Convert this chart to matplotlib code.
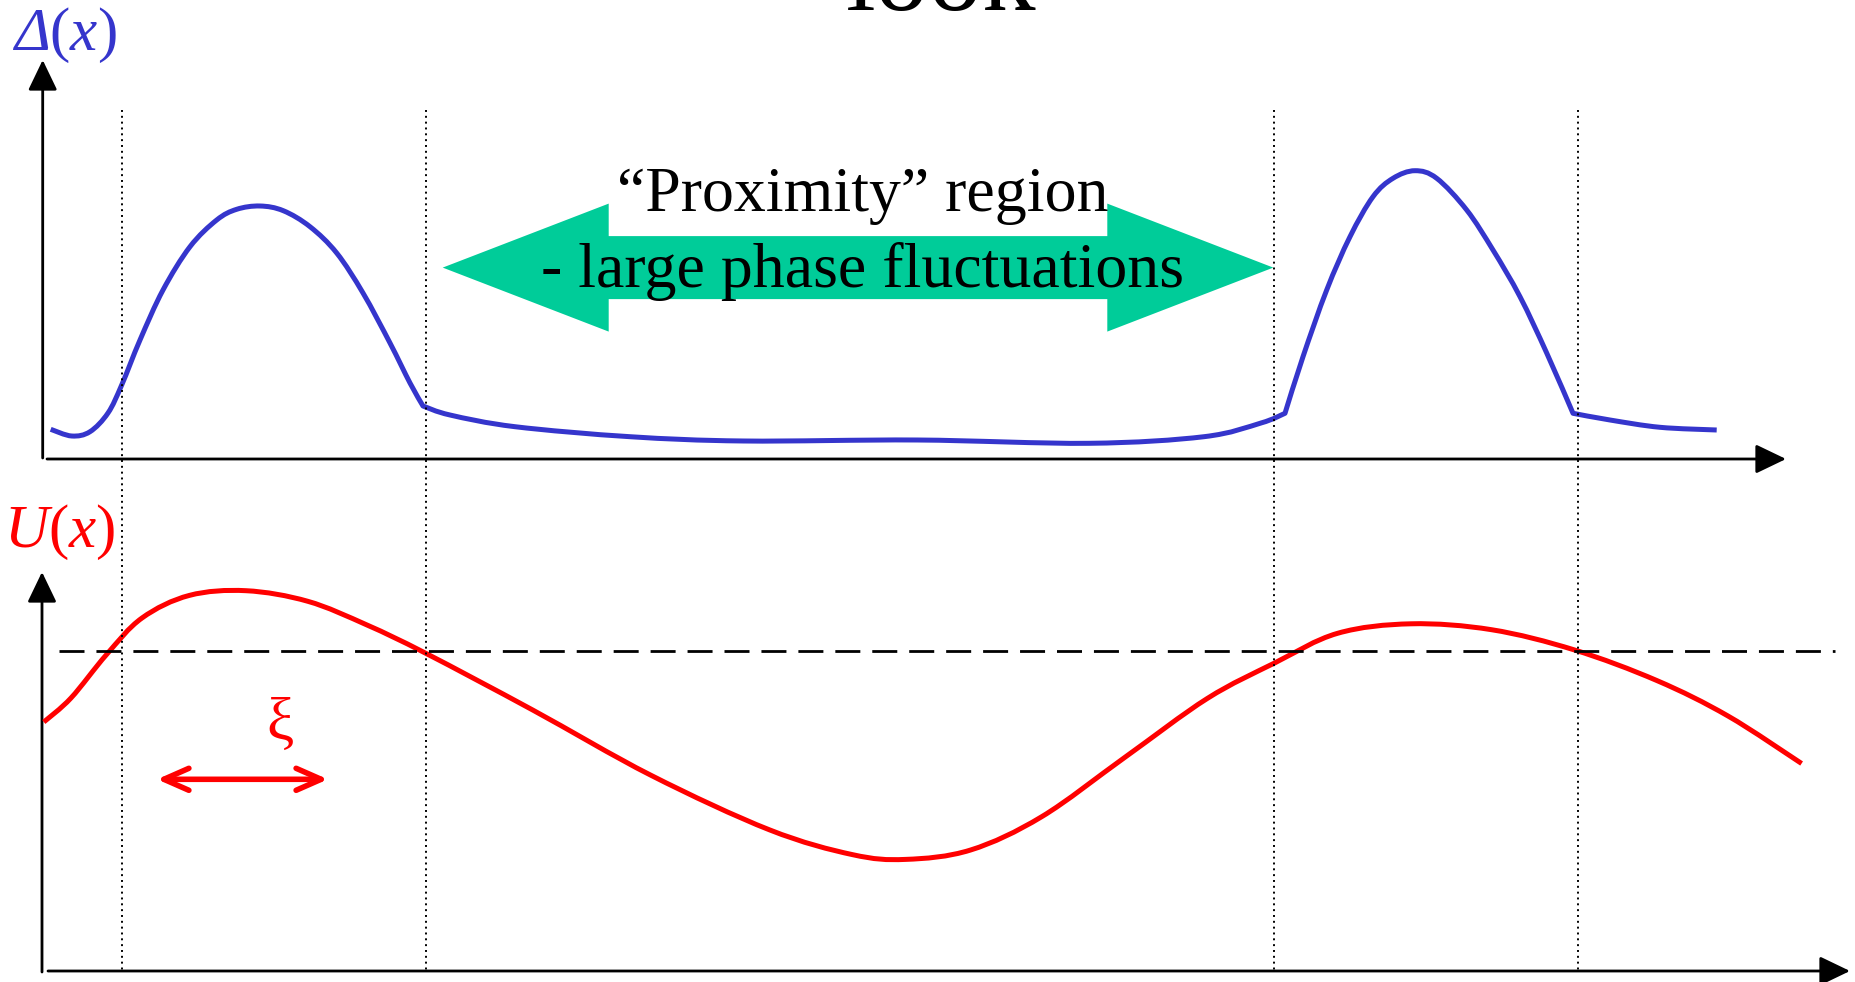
import matplotlib
matplotlib.use('Agg')
import matplotlib.pyplot as plt
import matplotlib.patches as mpatches
from matplotlib.path import Path
import numpy as np

plt.rcParams['font.family'] = ['Liberation Serif', 'DejaVu Serif']
plt.rcParams['mathtext.fontset'] = 'custom'
plt.rcParams['mathtext.rm'] = 'Liberation Serif'
plt.rcParams['mathtext.it'] = 'Liberation Serif:italic'

W, H = 1856, 982

# Gap function Delta(x) (pixel coords, y down)
delta_x = [50.7, 71.7, 90, 108, 121.7, 140, 163, 190, 216.7, 236.7, 260, 283.3,
           310, 336.7, 363, 390, 410, 423,
           450, 515, 630, 744, 917, 1089, 1204, 1261, 1285,
           1303, 1326.7, 1350, 1373, 1393, 1415, 1436.7, 1466.7, 1493, 1520,
           1546.7, 1573, 1610, 1660, 1716.7]
delta_y = [429.3, 436, 431.7, 413, 385, 340, 290, 246.7, 220, 209.3, 206, 210.7,
           226.7, 253, 293, 343, 383, 406,
           415, 426.7, 436.7, 441, 440, 443.3, 436.7, 423, 413.3,
           356.7, 290, 236.7, 196.7, 178.3, 170.7, 178.3, 210, 250, 296.7,
           353, 413.3, 420, 427.3, 430]
delta_kinks = [17, 26, 38]   # indices where the curve has a corner

# Pairing potential U(x)
u_x = [43.8, 71, 106.5, 142, 189.4, 246, 307.8, 367, 426, 532.7, 651, 769.4,
       852.3, 905.5, 970.6, 1041.7, 1124.5, 1207.4, 1274.8, 1337.6, 1411,
       1491.5, 1574.3, 1657, 1728, 1801.6]
u_y = [722, 698, 654.6, 618, 595.4, 590.7, 601.3, 625, 653.4, 710, 775.3, 829.8,
       854.6, 859.4, 850, 816.7, 757.6, 698.4, 662.9, 633.3, 623.8,
       629.7, 649.9, 680.6, 716, 763.5]

u_level = 651                      # dashed horizontal level
boundaries = [122.5, 426.5, 1274.5, 1578.3]   # dotted vertical lines

BLUE = '#3535CC'
RED = '#FF0000'
GREEN = '#00CC99'

fig = plt.figure(figsize=(W / 100, H / 100), dpi=100)
ax = fig.add_axes([0, 0, 1, 1])
ax.set_xlim(0, W)
ax.set_ylim(H, 0)
ax.axis('off')

px = 72 / 100  # pixels -> points


def smooth_path(xs, ys, kinks=()):
    """Cubic Bezier path through the points (Catmull-Rom tangents), corners kept at kinks."""
    pts = np.column_stack([xs, ys]).astype(float)
    cuts = [0] + list(kinks) + [len(pts) - 1]
    verts, codes = [pts[0]], [Path.MOVETO]
    for a, b in zip(cuts[:-1], cuts[1:]):
        seg = pts[a:b + 1]
        n = len(seg)
        for i in range(n - 1):
            p_prev = seg[i - 1] if i > 0 else seg[i]
            p_next = seg[i + 2] if i + 2 < n else seg[i + 1]
            verts += [seg[i] + (seg[i + 1] - p_prev) / 6,
                      seg[i + 1] - (p_next - seg[i]) / 6,
                      seg[i + 1]]
            codes += [Path.CURVE4] * 3
    return Path(verts, codes)


def axis_arrow(x0, y0, x1, y1):
    style = mpatches.ArrowStyle('-|>', head_length=26 * px, head_width=12.5 * px)
    ax.add_patch(mpatches.FancyArrowPatch((x0, y0), (x1, y1), arrowstyle=style,
                                          mutation_scale=1, lw=2.8 * px, color='black',
                                          shrinkA=0, shrinkB=0))


# axes
axis_arrow(42.7, 458, 42.7, 60)
axis_arrow(47, 459, 1786, 459)
axis_arrow(42, 972, 42, 572)
axis_arrow(48, 971, 1850, 971)

# dotted boundaries
ax.vlines(boundaries, 110, 972, colors='black', lw=1.4, linestyles=(0, (1, 2)))

# dashed level
ax.hlines(u_level, 59, 1835, colors='black', lw=2, linestyles=(0, (9, 4.3)))

# curves
ax.add_patch(mpatches.PathPatch(smooth_path(delta_x, delta_y, delta_kinks), fill=False,
                                edgecolor=BLUE, lw=3.6, joinstyle='round', capstyle='butt'))
ax.add_patch(mpatches.PathPatch(smooth_path(u_x, u_y), fill=False,
                                edgecolor=RED, lw=3.6, joinstyle='round', capstyle='butt'))

# green double arrow
cx, cy = 858, 267.6
for tip in (442.7, 1273.3):
    ax.add_patch(mpatches.FancyArrow(cx, cy, tip - cx, 0, width=63, head_width=128,
                                     head_length=166, length_includes_head=True,
                                     color=GREEN, lw=0))

ax.text(863, 210.7, '\u201cProximity\u201d region', fontsize=46, ha='center', va='baseline')
ax.text(863, 286.7, '- large phase fluctuations', fontsize=46, ha='center', va='baseline')

# title (cut off at the top, as in the slide)
ax.text(941, 10, 'look', fontsize=77, ha='center', va='baseline')

# Delta(x) label: italic Delta and x, upright parentheses
prev = ax.text(14, 50, '\u0394', fontsize=44, color=BLUE, style='italic',
               ha='left', va='baseline')
for piece, sty in (('(', 'normal'), ('x', 'italic'), (')', 'normal')):
    prev = ax.annotate(piece, xy=(1, 0), xycoords=prev, fontsize=44, color=BLUE,
                       style=sty, ha='left', va='bottom')

ax.text(4, 546.7, r'$U\mathrm{(}x\mathrm{)}$', fontsize=44, color=RED,
        ha='left', va='baseline')

# coherence length
xi_style = mpatches.ArrowStyle('<->', head_length=25 * px, head_width=11 * px)
ax.add_patch(mpatches.FancyArrowPatch((157, 779.3), (328, 779.3), arrowstyle=xi_style,
                                      mutation_scale=1, lw=4, color=RED,
                                      shrinkA=0, shrinkB=0, capstyle='round',
                                      joinstyle='round'))
ax.text(280, 725, '\u03be', fontsize=44, color=RED, ha='center', va='center')

fig.savefig('out.png', dpi=100)
